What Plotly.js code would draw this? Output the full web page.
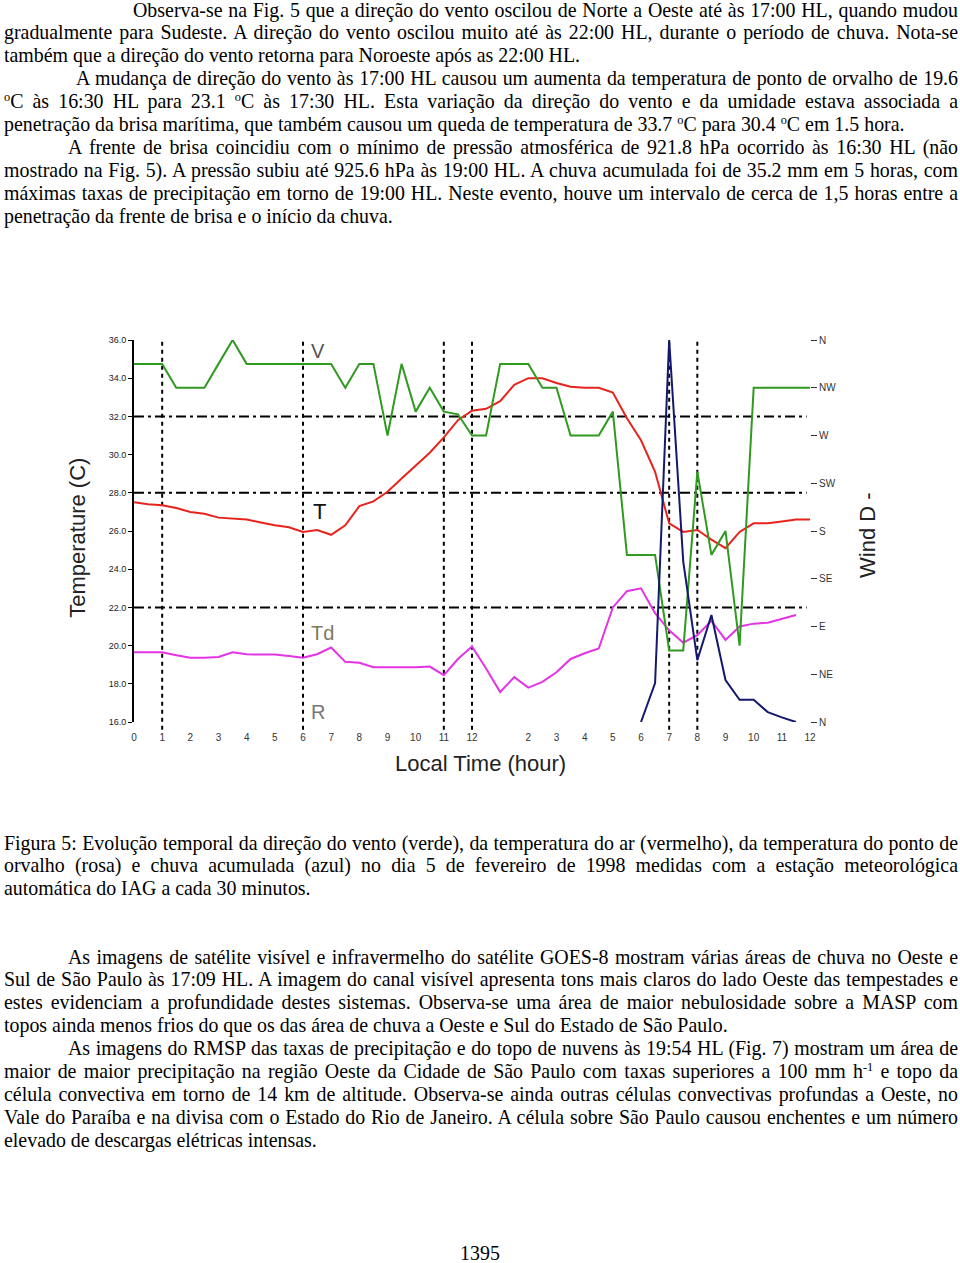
<!DOCTYPE html>
<html>
<head>
<meta charset="utf-8">
<script src="https://cdn.plot.ly/plotly-3.0.1.min.js"></script>
<style>
  html, body { margin:0; padding:0; background:#fff; }
  body { width:960px; height:1263px; position:relative; overflow:hidden; }
  #chart { position:absolute; left:0; top:0; width:960px; height:1263px; z-index:0; }
  .blk { position:absolute; z-index:1; font-family:"Liberation Serif","Times New Roman",serif; font-size:19.9px; color:#000; }
  .ln { position:relative; left:4px; width:954px; height:22.9px; line-height:22.9px; text-align:left; }
  .j { text-align:justify; text-align-last:justify; }
  sup { font-size:0.62em; vertical-align:0.55em; line-height:0; }
</style>
</head>
<body>
<div id="chart"></div>

<div class="blk" style="top:-1.5px;">
  <div class="ln j" style="left:133px;width:825px;">Observa-se na Fig. 5 que a direção do vento oscilou de Norte a Oeste até às 17:00 HL, quando mudou</div>
  <div class="ln j">gradualmente para Sudeste. A direção do vento oscilou muito até às 22:00 HL, durante o período de chuva. Nota-se</div>
  <div class="ln">também que a direção do vento retorna para Noroeste após as 22:00 HL.</div>
  <div class="ln j" style="left:76px;width:882px;">A mudança de direção do vento às 17:00 HL causou um aumenta da temperatura de ponto de orvalho de 19.6</div>
  <div class="ln j"><sup>o</sup>C às 16:30 HL para 23.1 <sup>o</sup>C às 17:30 HL. Esta variação da direção do vento e da umidade estava associada a</div>
  <div class="ln">penetração da brisa marítima, que também causou um queda de temperatura de 33.7 <sup>o</sup>C para 30.4 <sup>o</sup>C em 1.5 hora.</div>
  <div class="ln j" style="left:68px;width:890px;">A frente de brisa coincidiu com o mínimo de pressão atmosférica de 921.8 hPa ocorrido às 16:30 HL (não</div>
  <div class="ln j">mostrado na Fig. 5). A pressão subiu até 925.6 hPa às 19:00 HL. A chuva acumulada foi de 35.2 mm em 5 horas, com</div>
  <div class="ln j">máximas taxas de precipitação em torno de 19:00 HL. Neste evento, houve um intervalo de cerca de 1,5 horas entre a</div>
  <div class="ln">penetração da frente de brisa e o início da chuva.</div>
</div>

<div class="blk" style="top:831.5px;">
  <div class="ln j">Figura 5: Evolução temporal da direção do vento (verde), da temperatura do ar (vermelho), da temperatura do ponto de</div>
  <div class="ln j">orvalho (rosa) e chuva acumulada (azul) no dia 5 de fevereiro de 1998 medidas com a estação meteorológica</div>
  <div class="ln">automática do IAG a cada 30 minutos.</div>
</div>

<div class="blk" style="top:945.5px;">
  <div class="ln j" style="left:68px;width:890px;">As imagens de satélite visível e infravermelho do satélite GOES-8 mostram várias áreas de chuva no Oeste e</div>
  <div class="ln j">Sul de São Paulo às 17:09 HL. A imagem do canal visível apresenta tons mais claros do lado Oeste das tempestades e</div>
  <div class="ln j">estes evidenciam a profundidade destes sistemas. Observa-se uma área de maior nebulosidade sobre a MASP com</div>
  <div class="ln">topos ainda menos frios do que os das área de chuva a Oeste e Sul do Estado de São Paulo.</div>
  <div class="ln j" style="left:68px;width:890px;">As imagens do RMSP das taxas de precipitação e do topo de nuvens às 19:54 HL (Fig. 7) mostram um área de</div>
  <div class="ln j">maior de maior precipitação na região Oeste da Cidade de São Paulo com taxas superiores a 100 mm h<sup>-1</sup> e topo da</div>
  <div class="ln j">célula convectiva em torno de 14 km de altitude. Observa-se ainda outras células convectivas profundas a Oeste, no</div>
  <div class="ln j">Vale do Paraíba e na divisa com o Estado do Rio de Janeiro. A célula sobre São Paulo causou enchentes e um número</div>
  <div class="ln">elevado de descargas elétricas intensas.</div>
</div>

<div class="blk" style="top:1245px;left:0;width:960px;height:16px;text-align:center;line-height:16px;">1395</div>

<script>
// ---- data (30-minute samples) ----
const hours = [0,0.5,1,1.5,2,2.5,3,3.5,4,4.5,5,5.5,6,6.5,7,7.5,8,8.5,9,9.5,10,10.5,11,11.5,12,12.5,13,13.5,14,14.5,15,15.5,16,16.5,17,17.5,18,18.5,19,19.5,20,20.5,21,21.5,22,22.5,23,23.5,24];

// wind direction (degrees)
const windDir = [337.5,337.5,337.5,315,315,315,337.5,360,337.5,337.5,337.5,337.5,
                 337.5,337.5,337.5,315,337.5,337.5,270,337.5,292.5,315,292.5,290,
                 270,270,337.5,337.5,337.5,315,315,270,270,270,292.5,157.5,
                 157.5,157.5,67.5,67.5,236,157.5,180,72,315,315,315,315,
                 315];

// air temperature (C)
const airTemp = [27.5,27.4,27.35,27.2,27.0,26.9,26.7,26.65,26.6,26.45,26.3,26.2,
                 25.95,26.05,25.8,26.3,27.3,27.55,28.05,28.75,29.4,30.1,30.9,31.8,
                 32.3,32.4,32.8,33.65,34.0,34.0,33.75,33.55,33.5,33.5,33.25,31.9,
                 30.75,29.1,26.4,25.95,26.05,25.55,25.1,25.95,26.4,26.4,26.5,26.6,
                 26.6];

// dew point temperature (C)
const dewPoint = [19.65,19.65,19.65,19.5,19.36,19.36,19.4,19.65,19.55,19.53,19.53,19.45,
                  19.36,19.55,19.9,19.15,19.1,18.87,18.87,18.86,18.86,18.9,18.45,19.3,
                  19.95,18.8,17.57,18.35,17.8,18.1,18.6,19.3,19.6,19.85,22.0,22.85,
                  23.0,21.7,20.8,20.15,20.55,21.3,20.3,21.0,21.15,21.2,21.4,21.6,
                  null];

// rain (relative scale)
const rainHours = [18,18.5,19,19.5,20,20.5,21,21.5,22,22.5,23,23.5];
const rainVals  = [0,5.1,50,21,8.1,14,5.5,2.9,2.9,1.3,0.6,0];

// axis ticks
const hourTicks = [0,1,2,3,4,5,6,7,8,9,10,11,12,13,14,15,16,17,18,19,20,21,22,23,24];
const hourLabels = ["0","1","2","3","4","5","6","7","8","9","10","11","12","","2","3","4","5","6","7","8","9","10","11","12"];
const tempTicks = [16,18,20,22,24,26,28,30,32,34,36];
const tempLabels = ["16.0","18.0","20.0","22.0","24.0","26.0","28.0","30.0","32.0","34.0","36.0"];
const dirTicks = [0,45,90,135,180,225,270,315,360];
const dirLabels = ["N","NE","E","SE","S","SW","W","NW","N"];

// reference lines
const refHours = [1,6,11,12,19,20];
const refTemps = [22,28,32];

const traces = [
  {x: hours, y: windDir, yaxis: 'y2', mode: 'lines', line: {color: '#2f9a1f', width: 2}, hoverinfo: 'skip'},
  {x: hours, y: airTemp, yaxis: 'y', mode: 'lines', line: {color: '#e8231c', width: 2}, hoverinfo: 'skip'},
  {x: hours, y: dewPoint, yaxis: 'y', mode: 'lines', line: {color: '#e433e4', width: 2}, hoverinfo: 'skip'},
  {x: rainHours, y: rainVals, yaxis: 'y3', mode: 'lines', line: {color: '#14196e', width: 2}, hoverinfo: 'skip'}
];

const shapes = [];
refHours.forEach(h => shapes.push({type: 'line', xref: 'x', yref: 'paper', x0: h, x1: h, y0: -0.02, y1: 1,
  line: {color: '#000', width: 2, dash: '4px,4px'}, layer: 'below'}));
refTemps.forEach(t => shapes.push({type: 'line', xref: 'paper', yref: 'y', x0: 0, x1: 0.995, y0: t, y1: t,
  line: {color: '#000', width: 2, dash: '10px,4px,3px,4px'}, layer: 'below'}));

const font = 'Liberation Sans, Arial, sans-serif';
const annotations = [
  {text: 'Local Time (hour)', xref: 'paper', yref: 'paper', x: 0.512, y: -0.108, showarrow: false,
   font: {family: font, size: 22, color: '#222'}, xanchor: 'center', yanchor: 'middle'},
  {text: 'Temperature (C)', xref: 'paper', yref: 'paper', x: -0.083, y: 0.482, textangle: -90, showarrow: false,
   font: {family: font, size: 22, color: '#222'}, xanchor: 'center', yanchor: 'middle'},
  {text: 'Wind D -', xref: 'paper', yref: 'paper', x: 1.086, y: 0.49, textangle: -90, showarrow: false,
   font: {family: font, size: 22, color: '#222'}, xanchor: 'center', yanchor: 'middle'},
  {text: 'V', xref: 'x', yref: 'paper', x: 6.55, y: 0.972, showarrow: false,
   font: {family: font, size: 20, color: '#555'}, xanchor: 'center', yanchor: 'middle'},
  {text: 'T', xref: 'x', yref: 'paper', x: 6.6, y: 0.55, showarrow: false,
   font: {family: font, size: 22, color: '#111'}, xanchor: 'center', yanchor: 'middle'},
  {text: 'Td', xref: 'x', yref: 'paper', x: 6.7, y: 0.233, showarrow: false,
   font: {family: font, size: 20, color: '#7d7a5c'}, xanchor: 'center', yanchor: 'middle'},
  {text: 'R', xref: 'x', yref: 'paper', x: 6.55, y: 0.027, showarrow: false,
   font: {family: font, size: 20, color: '#777'}, xanchor: 'center', yanchor: 'middle'}
];

const layout = {
  width: 960, height: 1263,
  margin: {l: 134, r: 150, t: 340, b: 541, pad: 0},
  paper_bgcolor: 'rgba(0,0,0,0)', plot_bgcolor: 'rgba(0,0,0,0)',
  showlegend: false,
  font: {family: font},
  xaxis: {range: [0, 24], tickvals: hourTicks, ticktext: hourLabels, showgrid: false, zeroline: false,
          showline: false, ticks: '', ticklabelstandoff: 8, tickfont: {size: 10, color: '#333', family: font}, fixedrange: true},
  yaxis: {range: [16, 36], tickvals: tempTicks, ticktext: tempLabels, showgrid: false, zeroline: false,
          showline: true, linecolor: '#000', linewidth: 2, ticks: 'outside', ticklen: 4, tickwidth: 1, tickcolor: '#000',
          tickfont: {size: 9, color: '#222', family: font}, fixedrange: true},
  yaxis2: {range: [0, 360], overlaying: 'y', side: 'right', tickvals: dirTicks, ticktext: dirLabels,
           showgrid: false, zeroline: false, showline: false, ticks: 'outside', ticklen: 6, tickcolor: '#333',
           tickfont: {size: 10, color: '#333', family: font}, fixedrange: true},
  yaxis3: {range: [0, 50], overlaying: 'y', visible: false, fixedrange: true},
  shapes: shapes,
  annotations: annotations
};

Plotly.newPlot('chart', traces, layout, {displayModeBar: false, staticPlot: true});
</script>
</body>
</html>
